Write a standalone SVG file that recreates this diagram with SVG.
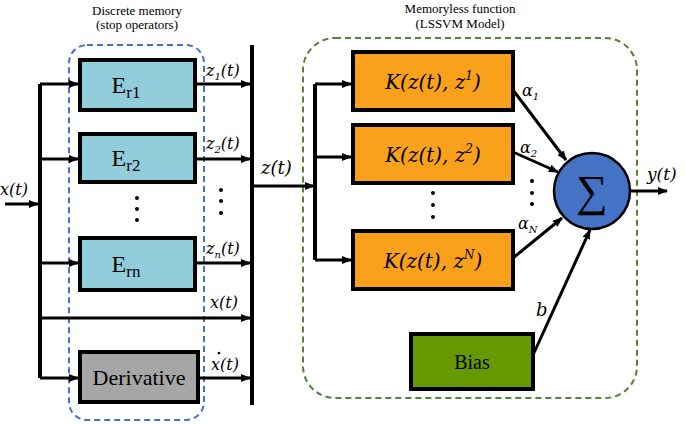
<svg xmlns="http://www.w3.org/2000/svg" width="685" height="424" viewBox="0 0 685 424">
<defs>
<marker id="ah" markerWidth="10" markerHeight="8" refX="9" refY="4" orient="auto" markerUnits="userSpaceOnUse"><path d="M0,0 L10,4 L0,8 Z" fill="#000"/></marker>
<style>
.t{font-family:"Liberation Serif",serif;fill:#000}
.m{font-family:"DejaVu Serif","Liberation Serif",serif;font-style:italic;fill:#000}
.w{stroke:#000;stroke-width:4;fill:none}
.a{stroke:#000;stroke-width:3;fill:none;marker-end:url(#ah)}
.box{stroke:#000;stroke-width:4}
</style>
</defs>
<rect width="685" height="424" fill="#fff"/>
<rect x="69" y="45" width="135" height="375" rx="18" fill="none" stroke="#4472C4" stroke-width="2" stroke-dasharray="6,4"/>
<rect x="303" y="38" width="334" height="360" rx="32" fill="none" stroke="#548235" stroke-width="2" stroke-dasharray="6,4"/>
<text class="t" x="137" y="15" font-size="13" text-anchor="middle" fill="#333">Discrete memory</text>
<text class="t" x="137" y="29" font-size="13" text-anchor="middle" fill="#333">(stop operators)</text>
<text class="t" x="460" y="13" font-size="13" text-anchor="middle">Memoryless function</text>
<text class="t" x="460" y="28" font-size="13" text-anchor="middle">(LSSVM Model)</text>
<g id="connectors">
<path class="w" d="M40,84 V378 M252,45 V405 M315,84 V260"/>
<path class="a" d="M5,204 H38"/>
<path class="a" d="M40,84 H78"/><path class="a" d="M40,159 H78"/><path class="a" d="M40,263 H78"/><path class="a" d="M40,378 H78"/>
<path class="a" d="M40,318 H250"/>
<path class="a" d="M195,84 H250"/><path class="a" d="M195,159 H250"/><path class="a" d="M195,263 H250"/><path class="a" d="M200,378 H250"/>
<path class="a" d="M252,186 H314"/>
<path class="a" d="M315,84 H351"/><path class="a" d="M315,157 H351"/><path class="a" d="M315,260 H351"/>
<path class="a" d="M513,90 L566,160"/><path class="a" d="M513,152 L558,172"/><path class="a" d="M513,258 L562,218"/>
<path class="a" d="M533,355 L590,230"/>
<path class="a" d="M630,191 H667"/>
</g>
<g id="er1"><rect class="box" x="80" y="60" width="115" height="50" fill="#92CDDC"/><text class="t" x="126" y="93" font-size="24" text-anchor="middle">E<tspan font-size="17" dy="5">r1</tspan></text></g>
<g id="er2"><rect class="box" x="80" y="134" width="115" height="48" fill="#92CDDC"/><text class="t" x="126" y="166" font-size="24" text-anchor="middle">E<tspan font-size="17" dy="5">r2</tspan></text></g>
<g id="ern"><rect class="box" x="80" y="238" width="115" height="52" fill="#92CDDC"/><text class="t" x="126" y="272" font-size="24" text-anchor="middle">E<tspan font-size="17" dy="5">rn</tspan></text></g>
<g id="deriv"><rect class="box" x="80" y="352" width="118" height="50" fill="#A6A6A6"/><text class="t" x="139" y="385" font-size="22" text-anchor="middle" fill="#222">Derivative</text></g>
<g id="k1"><rect class="box" x="353" y="52" width="160" height="58" fill="#F9A11B"/><text class="m" x="433" y="89" font-size="20" text-anchor="middle">K(z(t), z<tspan font-size="12" dy="-9">1</tspan><tspan dy="9">)</tspan></text></g>
<g id="k2"><rect class="box" x="353" y="125" width="160" height="58" fill="#F9A11B"/><text class="m" x="433" y="162" font-size="20" text-anchor="middle">K(z(t), z<tspan font-size="12" dy="-9">2</tspan><tspan dy="9">)</tspan></text></g>
<g id="kn"><rect class="box" x="353" y="231" width="160" height="58" fill="#F9A11B"/><text class="m" x="433" y="268" font-size="20" text-anchor="middle">K(z(t), z<tspan font-size="12" dy="-9">N</tspan><tspan dy="9">)</tspan></text></g>
<g id="sum"><circle cx="592" cy="191" r="38" fill="#4472C4" stroke="#000" stroke-width="2.5"/><text class="t" x="592" y="206" font-size="44" text-anchor="middle">∑</text></g>
<g id="bias"><rect class="box" x="411" y="334" width="122" height="55" fill="#669900"/><text class="t" x="472" y="369" font-size="20" text-anchor="middle">Bias</text></g>
<g id="labels" class="m" font-size="16">
<text x="0" y="195">x(t)</text>
<text x="206" y="76">z<tspan font-size="10" dy="4">1</tspan><tspan dy="-4">(t)</tspan></text>
<text x="206" y="149">z<tspan font-size="10" dy="4">2</tspan><tspan dy="-4">(t)</tspan></text>
<text x="206" y="254">z<tspan font-size="10" dy="4">n</tspan><tspan dy="-4">(t)</tspan></text>
<text x="210" y="308">x(t)</text>
<text x="211" y="370">x(t)</text>
<circle cx="219" cy="353" r="1.3" fill="#000"/>
<text x="261" y="174" font-size="18">z(t)</text>
<text x="522" y="96">α<tspan font-size="10" dy="4">1</tspan></text>
<text x="520" y="153">α<tspan font-size="10" dy="4">2</tspan></text>
<text x="518" y="229">α<tspan font-size="10" dy="4">N</tspan></text>
<text x="536" y="316" font-size="18">b</text>
<text x="647" y="180" font-size="17">y(t)</text>
</g>
<g fill="#000">
<circle cx="137" cy="198" r="2"/><circle cx="137" cy="209" r="2"/><circle cx="137" cy="220" r="2"/>
<circle cx="221" cy="190" r="2"/><circle cx="221" cy="201" r="2"/><circle cx="221" cy="213" r="2"/>
<circle cx="433" cy="193" r="2"/><circle cx="433" cy="205" r="2"/><circle cx="433" cy="217" r="2"/>
<circle cx="532" cy="181" r="2"/><circle cx="532" cy="193" r="2"/><circle cx="532" cy="204" r="2"/>
</g>
</svg>
